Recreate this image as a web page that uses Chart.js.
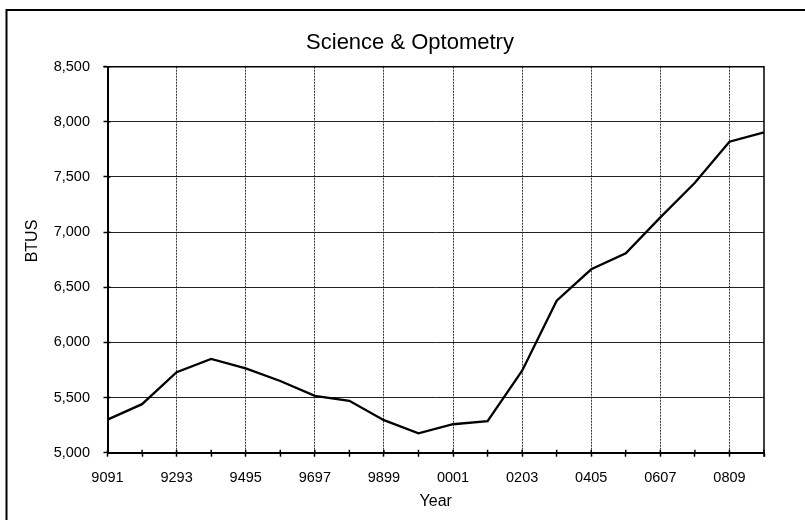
<!DOCTYPE html>
<html><head><meta charset="utf-8">
<script src="https://cdn.jsdelivr.net/npm/chart.js@4/dist/chart.umd.min.js"></script>
<style>html,body{margin:0;padding:0;background:#fff;overflow:hidden}#wrap{position:relative;width:805px;height:520px}</style>
</head><body><div id="wrap"><canvas id="c" width="805" height="520"></canvas></div>
<script>
const categories = ['9091','9192','9293','9394','9495','9596','9697','9798','9899','9900','0001','0102','0203','0304','0405','0506','0607','0708','0809','0910'];
const btusValues = [5300,5440,5730,5850,5765,5650,5515,5470,5295,5175,5258,5287,5744,6378,6663,6808,7134,7448,7820,7905];
const xTickLabels = ['9091','9293','9495','9697','9899','0001','0203','0405','0607','0809'];
const yTickValues = [5000,5500,6000,6500,7000,7500,8000,8500];
const chartTitle = 'Science & Optometry';
const yAxisTitle = 'BTUS';
const xAxisTitle = 'Year';

const FONT = '"Liberation Sans", Arial, sans-serif';

const decor = {
  id: 'decor',
  beforeDraw(chart) {
    const ctx = chart.ctx;
    ctx.save();
    ctx.fillStyle = '#fff';
    ctx.fillRect(0, 0, chart.width, chart.height);
    ctx.restore();
  },
  afterDraw(chart) {
    const {ctx, chartArea: a, scales: {x, y}} = chart;
    ctx.save();
    ctx.strokeStyle = '#000';
    // outer frame (left and top edges visible)
    ctx.lineWidth = 2;
    ctx.beginPath();
    ctx.moveTo(6.5, chart.height);
    ctx.lineTo(6.5, 10);
    ctx.lineTo(chart.width, 10);
    ctx.stroke();
    // plot top & right border
    ctx.lineWidth = 1.5;
    ctx.beginPath();
    ctx.moveTo(a.left - 4, a.top);
    ctx.lineTo(a.right, a.top);
    ctx.lineTo(a.right, a.bottom + 4);
    ctx.stroke();
    // inner halves of tick marks
    ctx.beginPath();
    x.ticks.forEach((t, i) => {
      const px = x.getPixelForTick(i);
      ctx.moveTo(px, a.bottom);
      ctx.lineTo(px, a.bottom - 3);
    });
    y.ticks.forEach((t, i) => {
      const py = y.getPixelForTick(i);
      ctx.moveTo(a.left, py);
      ctx.lineTo(a.left + 3, py);
    });
    ctx.stroke();
    // y axis title
    ctx.translate(33, 241);
    ctx.rotate(-Math.PI / 2);
    ctx.font = '16px ' + FONT;
    ctx.textAlign = 'center';
    ctx.textBaseline = 'middle';
    ctx.fillStyle = '#000';
    ctx.fillText(yAxisTitle, 0, 0);
    ctx.restore();
  }
};

new Chart(document.getElementById('c'), {
  type: 'line',
  data: {
    labels: categories,
    datasets: [{
      label: chartTitle,
      data: btusValues,
      borderColor: '#000',
      borderWidth: 2.3,
      pointRadius: 0,
      tension: 0,
      fill: false
    }]
  },
  options: {
    responsive: false,
    animation: false,
    devicePixelRatio: 1,
    layout: { padding: { left: 15, right: 0, top: 0, bottom: 0 } },
    plugins: {
      legend: { display: false },
      tooltip: { enabled: false },
      title: {
        display: true,
        text: chartTitle,
        color: '#000',
        font: { family: FONT, size: 22, weight: 'normal' },
        padding: { top: 29.3, bottom: 11 }
      }
    },
    scales: {
      x: {
        type: 'category',
        offset: false,
        afterFit(s) { s.height = 67.3; },
        grid: {
          color: c => (c.index % 2 === 0 ? '#333' : 'rgba(0,0,0,0)'),
          lineWidth: 1,
          tickLength: 4,
          tickColor: '#000',
          tickWidth: 1.5
        },
        border: { color: '#000', width: 2, dash: [2, 1] },
        ticks: {
          autoSkip: false,
          maxRotation: 0,
          padding: 13,
          color: '#000',
          font: { family: FONT, size: 14.5 },
          callback: (v, i) => (xTickLabels.includes(categories[i]) ? categories[i] : '')
        },
        title: {
          display: true,
          text: xAxisTitle,
          color: '#000',
          font: { family: FONT, size: 16 },
          padding: { top: 0, bottom: 8.4 }
        }
      },
      y: {
        min: yTickValues[0],
        max: yTickValues[yTickValues.length - 1],
        afterFit(s) { s.width = 92.5; },
        afterBuildTicks(s) { s.ticks = yTickValues.map(v => ({ value: v })); },
        grid: {
          color: '#222',
          lineWidth: 1,
          tickLength: 4,
          tickColor: '#000',
          tickWidth: 1.5
        },
        border: { color: '#000', width: 2 },
        ticks: {
          padding: 13.5,
          color: '#000',
          font: { family: FONT, size: 14.5 },
          callback: v => v.toLocaleString('en-US')
        }
      },
      yRight: {
        position: 'right',
        min: 0,
        max: 1,
        afterFit(s) { s.width = 41; },
        grid: { drawOnChartArea: false, drawTicks: false },
        border: { display: false },
        ticks: { display: false }
      }
    }
  },
  plugins: [decor]
});
</script>
</body></html>
